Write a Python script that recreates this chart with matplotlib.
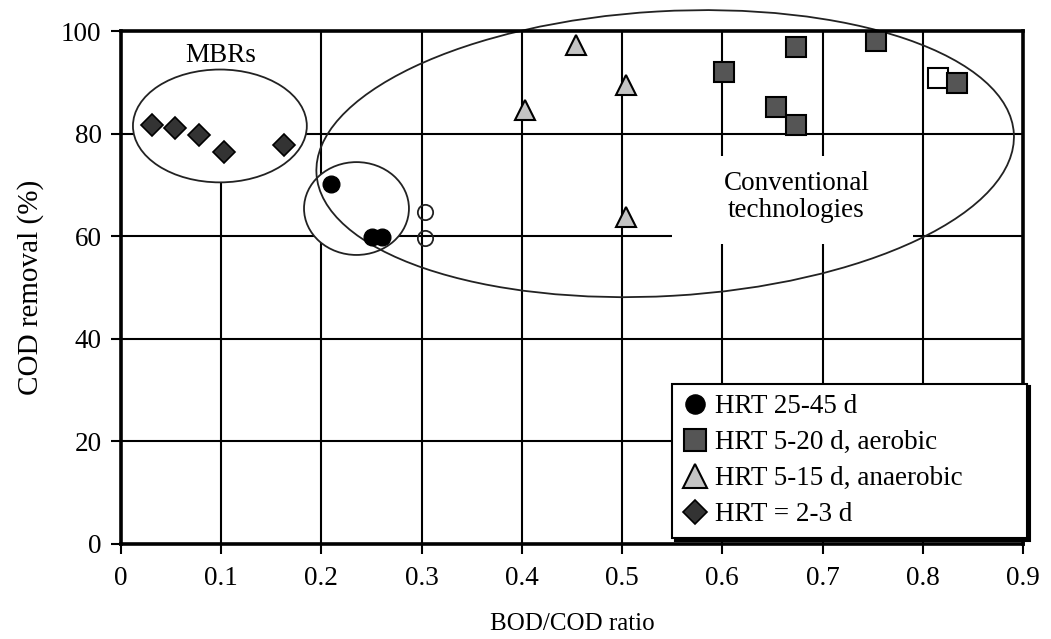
import matplotlib
matplotlib.use("Agg")
import matplotlib.pyplot as plt
from matplotlib.patches import Ellipse, Rectangle
from matplotlib.transforms import Affine2D

plt.rcParams['font.family'] = ['Liberation Serif', 'DejaVu Serif']

# BOD/COD ratio vs COD removal (%)
hrt_long_x = [0.21, 0.25, 0.26]
hrt_long_y = [70.2, 59.8, 59.8]

aerobic_x = [0.602, 0.674, 0.654, 0.674, 0.753, 0.834]
aerobic_y = [92.1, 96.9, 85.1, 81.7, 98.1, 89.9]

anaerobic_x = [0.454, 0.403, 0.504, 0.504]
anaerobic_y = [97.3, 84.6, 89.5, 63.8]

mbr_x = [0.031, 0.054, 0.078, 0.103, 0.163]
mbr_y = [81.7, 81.1, 79.7, 76.5, 77.8]

# points without legend entry
open_circle_x = [0.303, 0.303]
open_circle_y = [64.7, 59.6]
open_square_x = [0.815]
open_square_y = [90.8]

xticks = [0, 0.1, 0.2, 0.3, 0.4, 0.5, 0.6, 0.7, 0.8, 0.9]
yticks = [0, 20, 40, 60, 80, 100]

fig = plt.figure(figsize=(10.51, 6.39), dpi=100)
ax = fig.add_axes([0.1151, 0.1487, 0.8582, 0.8027])
ax.set_xlim(0, 0.9)
ax.set_ylim(0, 100)

# grid lines drawn by hand so white patches can cut them
for x in xticks[1:-1]:
    ax.axvline(x, color='black', lw=1.5, zorder=1)
for y in yticks[1:-1]:
    ax.axhline(y, color='black', lw=1.5, zorder=1)

# group ellipses
mbr_ell = Ellipse((0.0987, 81.5), 0.1735, 22.0, facecolor='white',
                  edgecolor='#222222', lw=1.3, zorder=2)
ax.add_patch(mbr_ell)
small_ell = Ellipse((0.235, 65.4), 0.1047, 18.1, facecolor='white',
                    edgecolor='#222222', lw=1.3, zorder=2)
ax.add_patch(small_ell)

big_ell = Ellipse((0.543, 76.1), 0.697, 55.5, facecolor='none',
                  edgecolor='#222222', lw=1.3, zorder=3, clip_on=False)
cx, cy = ax.transData.transform((0.543, 76.1))
big_ell.set_transform(ax.transData + Affine2D().rotate_deg_around(cx, cy, 3.3))
ax.add_patch(big_ell)

# white area behind the label
ax.add_patch(Rectangle((0.55, 58.4), 0.24, 17.2, facecolor='white',
                       edgecolor='none', zorder=2))

ax.text(0.1, 95.3, 'MBRs', fontsize=19.5, ha='center', va='center', zorder=1.5,
        bbox=dict(facecolor='white', edgecolor='none', pad=10))
ax.text(0.674, 67.6, 'Conventional\ntechnologies', fontsize=19.5, ha='center',
        va='center', linespacing=1.1, zorder=3)

ax.plot(hrt_long_x, hrt_long_y, 'o', ms=12, mfc='black', mec='black',
        label='HRT 25-45 d', zorder=4)
ax.plot(aerobic_x, aerobic_y, 's', ms=14, mfc='#555555', mec='black', mew=1.5,
        label='HRT 5-20 d, aerobic', zorder=4)
ax.plot(anaerobic_x, anaerobic_y, '^', ms=15, mfc='#c4c4c4', mec='black', mew=1.5,
        label='HRT 5-15 d, anaerobic', zorder=4)
ax.plot(mbr_x, mbr_y, 'D', ms=11, mfc='#333333', mec='black', mew=1.2,
        label='HRT = 2-3 d', zorder=4)
ax.plot(open_circle_x, open_circle_y, 'o', ms=11, mfc='none', mec='#222222',
        mew=1.3, zorder=4)
ax.plot(open_square_x, open_square_y, 's', ms=14, mfc='white', mec='black',
        mew=1.5, zorder=3.9)

ax.set_xticks(xticks)
ax.set_xticklabels(['0', '0.1', '0.2', '0.3', '0.4', '0.5', '0.6', '0.7', '0.8', '0.9'])
ax.set_yticks(yticks)
ax.tick_params(axis='both', direction='out', length=7, width=1.5,
               labelsize=19.5, colors='black')
ax.tick_params(axis='x', pad=9)
ax.tick_params(axis='y', pad=7)
for s in ax.spines.values():
    s.set_linewidth(2.6)
    s.set_color('black')
    s.set_zorder(6)

ax.set_xlabel('BOD/COD ratio', fontsize=18, labelpad=16)
ax.set_ylabel('COD removal (%)', fontsize=21, labelpad=12)

leg = ax.legend(loc='lower left', bbox_to_anchor=(0.611, 0.012, 0.394, 0.292),
                mode='expand', fontsize=19.5, frameon=True, fancybox=False,
                shadow={'color': 'black', 'alpha': 1}, borderaxespad=0,
                handlelength=0.9, handletextpad=0.3, labelspacing=0.4,
                borderpad=0.4, markerscale=1.15)
leg.get_frame().set_edgecolor('black')
leg.get_frame().set_linewidth(1.5)
leg.set_zorder(7)

fig.savefig('out.png', dpi=100)
